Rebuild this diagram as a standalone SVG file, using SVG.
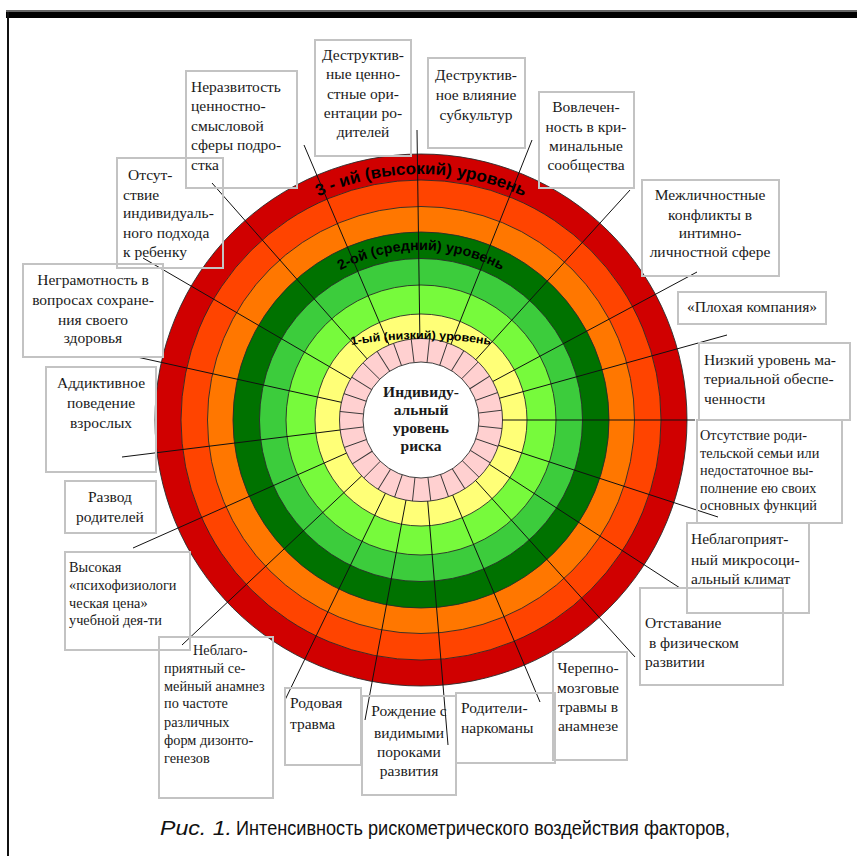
<svg xmlns="http://www.w3.org/2000/svg" xmlns:xlink="http://www.w3.org/1999/xlink" width="857" height="856" viewBox="0 0 857 856">
<style>
.ring{stroke:#2a2a2a;stroke-width:0.9}
.box{fill:none;stroke:#c3c3c3;stroke-width:2}
.t{font-family:"Liberation Serif","Times New Roman",serif;font-size:15.5px;fill:#1a1a1a}
.s{font-size:14.3px}
.c{text-anchor:middle}
.arc{font-family:"Liberation Sans",Arial,sans-serif;font-weight:bold;fill:#000}
.sp{stroke:#111;stroke-width:1;fill:none}
</style>
<defs>
<path id="a3" d="M262.9,231.6 A246,246 0 0 1 579.1,231.6"/>
<path id="a2" d="M311.7,289.8 A170,170 0 0 1 530.3,289.8"/>
<path id="a1" d="M317.5,352.6 A400,400 0 0 1 524.5,352.6"/>
<line id="pd" x1="479" y1="420" x2="502.5" y2="420" stroke="#333" stroke-width="0.9"/>
</defs>
<rect width="857" height="856" fill="#fff"/>
<rect x="6" y="10" width="851" height="2" fill="#666"/>
<rect x="6" y="12" width="851" height="6" fill="#000"/>
<rect x="7" y="12" width="2" height="844" fill="#111"/>

<g id="wheel">
<circle class="ring" cx="421" cy="420" r="266" fill="#D00000"/>
<circle class="ring" cx="421" cy="420" r="240" fill="#FF4400"/>
<circle class="ring" cx="421" cy="420" r="213.5" fill="#FF7700"/>
<circle class="ring" cx="421" cy="420" r="188" fill="#007200"/>
<circle class="ring" cx="421" cy="420" r="161.5" fill="#3CCC3C"/>
<circle class="ring" cx="421" cy="420" r="135" fill="#77FA3C"/>
<circle class="ring" cx="421" cy="420" r="106" fill="#FFFF77"/>
<circle class="ring" cx="421" cy="420" r="81.5" fill="#FFD0D0"/>
<circle class="ring" cx="421" cy="420" r="58" fill="#fff"/>
<g>
<use href="#pd" transform="rotate(6 421 420)"/><use href="#pd" transform="rotate(18.9 421 420)"/><use href="#pd" transform="rotate(31.7 421 420)"/><use href="#pd" transform="rotate(44.6 421 420)"/><use href="#pd" transform="rotate(57.4 421 420)"/><use href="#pd" transform="rotate(70.3 421 420)"/><use href="#pd" transform="rotate(83.1 421 420)"/><use href="#pd" transform="rotate(96 421 420)"/><use href="#pd" transform="rotate(108.9 421 420)"/><use href="#pd" transform="rotate(121.7 421 420)"/><use href="#pd" transform="rotate(134.6 421 420)"/><use href="#pd" transform="rotate(147.4 421 420)"/><use href="#pd" transform="rotate(160.3 421 420)"/><use href="#pd" transform="rotate(173.1 421 420)"/><use href="#pd" transform="rotate(186 421 420)"/><use href="#pd" transform="rotate(198.9 421 420)"/><use href="#pd" transform="rotate(211.7 421 420)"/><use href="#pd" transform="rotate(224.6 421 420)"/><use href="#pd" transform="rotate(237.4 421 420)"/><use href="#pd" transform="rotate(250.3 421 420)"/><use href="#pd" transform="rotate(263.1 421 420)"/><use href="#pd" transform="rotate(276 421 420)"/><use href="#pd" transform="rotate(288.9 421 420)"/><use href="#pd" transform="rotate(301.7 421 420)"/><use href="#pd" transform="rotate(314.6 421 420)"/><use href="#pd" transform="rotate(327.4 421 420)"/><use href="#pd" transform="rotate(340.3 421 420)"/><use href="#pd" transform="rotate(353.1 421 420)"/>
</g>
<text class="arc" font-size="16.5"><textPath href="#a3" startOffset="50%" text-anchor="middle" textLength="212" lengthAdjust="spacingAndGlyphs">3 - ий (высокий) уровень</textPath></text>
<text class="arc" font-size="14"><textPath href="#a2" startOffset="50%" text-anchor="middle" textLength="168" lengthAdjust="spacingAndGlyphs">2-ой (средний) уровень</textPath></text>
<text class="arc" font-size="11.5"><textPath href="#a1" startOffset="50%" text-anchor="middle" textLength="140" lengthAdjust="spacingAndGlyphs">1-ый (низкий) уровень</textPath></text>
</g>

<g id="connectors" class="sp">
<line x1="143" y1="258" x2="350.6" y2="379"/>
<line x1="212" y1="183" x2="367.1" y2="358.9"/>
<line x1="304" y1="145" x2="389.1" y2="345"/>
<line x1="417" y1="130" x2="419.9" y2="338.5"/>
<line x1="532" y1="140" x2="451" y2="344.2"/>
<line x1="630" y1="190" x2="475.8" y2="359.7"/>
<line x1="697" y1="272" x2="492.8" y2="381.5"/>
<line x1="727" y1="335" x2="499.5" y2="398.2"/>
<line x1="695" y1="420" x2="502.5" y2="420"/>
<line x1="718" y1="517" x2="498.5" y2="445.3"/>
<line x1="680" y1="588" x2="489.4" y2="464.4"/>
<line x1="635" y1="657" x2="475.6" y2="480.5"/>
<line x1="540" y1="702" x2="452.7" y2="495.1"/>
<line x1="448" y1="745" x2="427.7" y2="501.2"/>
<line x1="365" y1="720" x2="406" y2="500.1"/>
<line x1="285" y1="700" x2="385.4" y2="493.3"/>
<line x1="182" y1="645" x2="361.7" y2="475.9"/>
<line x1="133" y1="548" x2="346.5" y2="453.1"/>
<line x1="122" y1="457" x2="340.1" y2="430"/>
<line x1="137" y1="357" x2="341.4" y2="402.3"/>
</g>

<g id="center">
<text class="t c" font-weight="bold" font-size="15.5" x="421"><tspan x="421" y="397">Индивиду-</tspan><tspan x="421" y="415">альный</tspan><tspan x="421" y="433">уровень</tspan><tspan x="421" y="451">риска</tspan></text>
</g>

<g id="n-nerazvitost">
<rect class="box" x="186" y="71" width="111" height="117"/>
<text class="t"><tspan x="191" y="92">Неразвитость</tspan><tspan x="191" y="111">ценностно-</tspan><tspan x="191" y="131">смысловой</tspan><tspan x="191" y="150">сферы подро-</tspan><tspan x="191" y="170">стка</tspan></text>
</g>
<g id="n-cennosti">
<rect class="box" x="315" y="40" width="96" height="116"/>
<text class="t c"><tspan x="363" y="60">Деструктив-</tspan><tspan x="363" y="79">ные ценно-</tspan><tspan x="363" y="98.5">стные ори-</tspan><tspan x="363" y="118">ентации ро-</tspan><tspan x="363" y="137">дителей</tspan></text>
</g>
<g id="n-subkultur">
<rect class="box" x="428" y="58" width="97" height="90"/>
<text class="t c"><tspan x="476" y="80">Деструктив-</tspan><tspan x="476" y="100">ное влияние</tspan><tspan x="476" y="120">субкультур</tspan></text>
</g>
<g id="n-vovlechen">
<rect class="box" x="539" y="92" width="95" height="96"/>
<text class="t c"><tspan x="586" y="112">Вовлечен-</tspan><tspan x="586" y="132">ность в кри-</tspan><tspan x="586" y="151">минальные</tspan><tspan x="586" y="170">сообщества</tspan></text>
</g>
<g id="n-mezhlichn">
<rect class="box" x="642" y="180" width="137" height="96"/>
<text class="t c"><tspan x="710" y="200">Межличностные</tspan><tspan x="710" y="220">конфликты в</tspan><tspan x="710" y="238">интимно-</tspan><tspan x="710" y="257">личностной сфере</tspan></text>
</g>
<g id="n-kompaniya">
<rect class="box" x="678" y="292" width="148" height="32"/>
<text class="t c" x="752" y="312">«Плохая компания»</text>
</g>
<g id="n-nizkiy">
<rect class="box" x="699" y="343" width="151" height="77"/>
<text class="t"><tspan x="704" y="365">Низкий уровень ма-</tspan><tspan x="704" y="384">териальной обеспе-</tspan><tspan x="704" y="404">ченности</tspan></text>
</g>
<g id="n-semya">
<rect class="box" x="697" y="420" width="145" height="103"/>
<text class="t s"><tspan x="700" y="440">Отсутствие роди-</tspan><tspan x="700" y="458">тельской семьи или</tspan><tspan x="700" y="475">недостаточное вы-</tspan><tspan x="700" y="493">полнение ею своих</tspan><tspan x="700" y="510">основных функций</tspan></text>
</g>
<g id="n-mikroklimat">
<rect class="box" x="687" y="523" width="122" height="90"/>
<text class="t"><tspan x="691" y="543.5">Неблагоприят-</tspan><tspan x="691" y="565">ный микросоци-</tspan><tspan x="691" y="584">альный климат</tspan></text>
</g>
<g id="n-otstavanie">
<rect class="box" x="640" y="588" width="143" height="97"/>
<text class="t"><tspan x="645" y="628">Отставание</tspan><tspan x="645" y="648"> в физическом</tspan><tspan x="645" y="667">развитии</tspan></text>
</g>
<g id="n-cherepno">
<rect class="box" x="553" y="652" width="74" height="108"/>
<text class="t c"><tspan x="588" y="673">Черепно-</tspan><tspan x="588" y="693">мозговые</tspan><tspan x="588" y="712">травмы в</tspan><tspan x="588" y="731">анамнезе</tspan></text>
</g>
<g id="n-roditeli">
<rect class="box" x="456" y="693" width="99" height="70"/>
<text class="t"><tspan x="461" y="713">Родители-</tspan><tspan x="461" y="733">наркоманы</tspan></text>
</g>
<g id="n-rozhdenie">
<rect class="box" x="362" y="696" width="94" height="99"/>
<text class="t c"><tspan x="409" y="716">Рождение с</tspan><tspan x="409" y="738">видимыми</tspan><tspan x="409" y="757">пороками</tspan><tspan x="409" y="776">развития</tspan></text>
</g>
<g id="n-rodovaya">
<rect class="box" x="285" y="688" width="76" height="77"/>
<text class="t"><tspan x="290" y="708">Родовая</tspan><tspan x="290" y="729">травма</tspan></text>
</g>
<g id="n-anamnez">
<rect class="box" x="159" y="637" width="114" height="161"/>
<text class="t s"><tspan x="193" y="655">Неблаго-</tspan><tspan x="164" y="673">приятный се-</tspan><tspan x="164" y="691">мейный анамнез</tspan><tspan x="164" y="708">по частоте</tspan><tspan x="164" y="727">различных</tspan><tspan x="164" y="745">форм дизонто-</tspan><tspan x="164" y="763">генезов</tspan></text>
</g>
<g id="n-vysokaya">
<rect class="box" x="65" y="552" width="125" height="98"/>
<text class="t s"><tspan x="69" y="572">Высокая</tspan><tspan x="69" y="590">«психофизиологи</tspan><tspan x="69" y="608">ческая цена»</tspan><tspan x="69" y="625">учебной дея-ти</tspan></text>
</g>
<g id="n-razvod">
<rect class="box" x="65" y="481" width="91" height="52"/>
<text class="t c"><tspan x="110" y="502">Развод</tspan><tspan x="110" y="522">родителей</tspan></text>
</g>
<g id="n-addiktivnoe">
<rect class="box" x="46" y="367" width="110" height="105"/>
<text class="t c"><tspan x="101" y="388">Аддиктивное</tspan><tspan x="101" y="408">поведение</tspan><tspan x="101" y="428">взрослых</tspan></text>
</g>
<g id="n-negramotnost">
<rect class="box" x="23" y="264" width="140" height="93"/>
<text class="t c"><tspan x="93" y="285">Неграмотность в</tspan><tspan x="93" y="305">вопросах сохране-</tspan><tspan x="93" y="325">ния своего</tspan><tspan x="93" y="343">здоровья</tspan></text>
</g>
<g id="n-podhod">
<rect class="box" x="117" y="158" width="106" height="110"/>
<text class="t"><tspan x="128" y="180">Отсут-</tspan><tspan x="123" y="200">ствие</tspan><tspan x="123" y="218">индивидуаль-</tspan><tspan x="123" y="238">ного подхода</tspan><tspan x="123" y="257">к ребенку</tspan></text>
</g>

<g id="caption" font-family="'Liberation Sans',Arial,sans-serif" font-size="20" fill="#111">
<text x="160" y="835" font-style="italic" textLength="72" lengthAdjust="spacingAndGlyphs">Рис. 1.</text>
<text x="236" y="835" textLength="494" lengthAdjust="spacingAndGlyphs">Интенсивность рискометрического воздействия факторов,</text>
</g>
</svg>
